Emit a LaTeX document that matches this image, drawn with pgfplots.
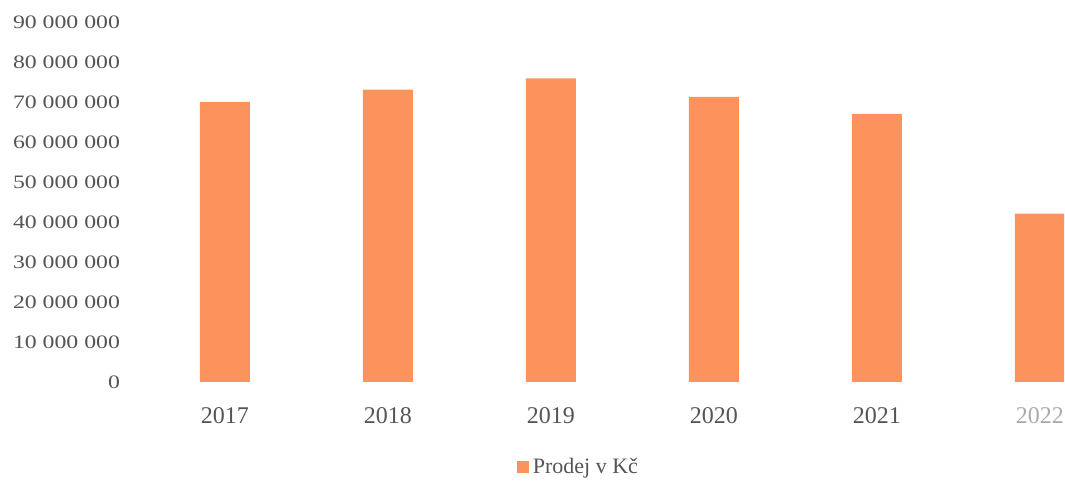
\documentclass[border=0pt]{standalone}
\usepackage{pgfplots}
\pgfplotsset{compat=1.18}
\usepackage{fontspec}
\setmainfont{Liberation Serif}
\newfontfamily\tickfont[FakeStretch=1.25]{Liberation Serif}

\definecolor{barorange}{RGB}{252,146,92}
\definecolor{labelgray}{RGB}{85,85,85}
\definecolor{fadedgray}{RGB}{170,170,170}

\begin{document}
\begin{tikzpicture}
\begin{axis}[
    name=ax,
    at={(0,0)}, anchor=south west,
    scale only axis,
    width=468.6pt, height=180pt,
    xmin=-0.6, xmax=5.15,
    ymin=0, ymax=90000000,
    axis line style={draw=none},
    tick style={draw=none},
    xtick=data,
    xticklabels={2017,2018,2019,2020,2021,\textcolor{fadedgray}{2022}},
    ytick={0,10000000,20000000,30000000,40000000,50000000,60000000,70000000,80000000,90000000},
    scaled y ticks=false,
    /pgf/number format/assume math mode=true,
    yticklabel style={font=\tickfont\fontsize{9.5}{11}\selectfont, text=labelgray,
        /pgf/number format/.cd, fixed, 1000 sep={\ }},
    xticklabel style={font=\fontsize{12}{14}\selectfont, text=labelgray, yshift=-5pt},
    ybar, bar width=25pt,
    legend style={at={(0.483,-0.236)}, anchor=center, draw=none,
        font=\fontsize{11}{13}\selectfont, text=labelgray},
    legend image code/.code={\fill[barorange] (0cm,-0.1cm) rectangle (0.2cm,0.1cm);},
]
\addplot[fill=barorange, draw=none] coordinates {
    (0,70000000) (1,73100000) (2,75900000) (3,71300000) (4,67000000) (5,42100000)
};
\addlegendentry{Prodej v Kč}
\end{axis}
\pgfresetboundingbox
\path[use as bounding box] (ax.south west) ++(-63.5pt,-49.5pt) rectangle ++(532.5pt,240.5pt);
\end{tikzpicture}
\end{document}
